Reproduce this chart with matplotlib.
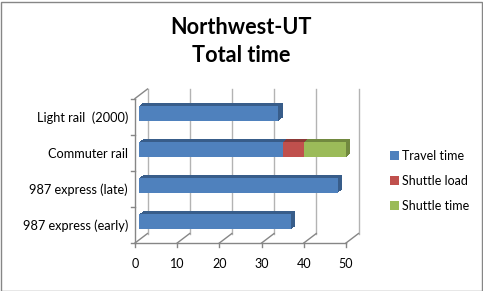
import matplotlib
matplotlib.use("Agg")
import matplotlib.pyplot as plt
from matplotlib.transforms import offset_copy
from matplotlib.patches import Rectangle
import numpy as np

plt.rcParams['font.family'] = ['Lato', 'DejaVu Sans']

categories = ["987 express (early)", "987 express (late)", "Commuter rail", "Light rail  (2000)"]
travel_time = [36, 47, 34, 33]
shuttle_load = [0, 0, 5, 0]
shuttle_time = [0, 0, 10, 0]
series_names = ["Travel time", "Shuttle load", "Shuttle time"]
x_ticks = [0, 10, 20, 30, 40, 50]

front_colors = ["#4f81bd", "#c0504d", "#9bbb59"]
depth_colors = ["#385d8a", "#8c3836", "#71893f"]
grid_c = "#b3b3b3"
axis_c = "#868686"

W, H = 483, 291
fig = plt.figure(figsize=(W / 100, H / 100), dpi=100)
fig.patch.set_facecolor("white")

# front frame in pixels
px0, px1 = 135, 346
py_top, py_bot = 98.5, 243
ax = fig.add_axes([px0 / W, (H - py_bot) / H, (px1 - px0) / W, (py_bot - py_top) / H])
ax.set_xlim(0, 50)
ax.set_ylim(-0.5, 3.5)
ax.axis("off")

wall_dx, wall_dy = 12.5, 9.5
back = offset_copy(ax.transData, fig=fig, x=wall_dx, y=wall_dy, units="dots")
inv = ax.transData.inverted()

# back wall gridlines
for xv in x_ticks:
    ax.plot([xv, xv], [-0.5, 3.5], color=grid_c, lw=1, transform=back, clip_on=False, zorder=1)
# floor diagonals
for xv in x_ticks:
    a = inv.transform(ax.transData.transform((xv, -0.5)))
    b = inv.transform(back.transform((xv, -0.5)))
    ax.plot([a[0], b[0]], [a[1], b[1]], color=axis_c, lw=1, clip_on=False, zorder=1)
# left wall top diagonal
a = inv.transform(ax.transData.transform((0, 3.5))); b = inv.transform(back.transform((0, 3.5)))
ax.plot([a[0], b[0]], [a[1], b[1]], color=axis_c, lw=1, clip_on=False, zorder=1)
# front axis lines
ax.plot([0, 0], [-0.5, 3.5], color=axis_c, lw=1, clip_on=False, zorder=1)
ax.plot([0, 50], [-0.5, -0.5], color=axis_c, lw=1, clip_on=False, zorder=1)
# ticks
for yv in np.arange(-0.5, 3.6, 1.0):
    t0 = offset_copy(ax.transData, fig=fig, x=-4, y=0, units="dots")
    pa = inv.transform(t0.transform((0, yv)))
    ax.plot([pa[0], 0], [yv, yv], color=axis_c, lw=1, clip_on=False, zorder=1)
for xv in x_ticks:
    t0 = offset_copy(ax.transData, fig=fig, x=0, y=-4, units="dots")
    pa = inv.transform(t0.transform((xv, -0.5)))
    ax.plot([xv, xv], [pa[1], -0.5], color=axis_c, lw=1, clip_on=False, zorder=1)

# bars (3D-like extrusion)
ypos = np.arange(len(categories))
bar_h = 0.415
series = [travel_time, shuttle_load, shuttle_time]
lefts = [np.zeros(len(categories)), np.array(travel_time, float),
         np.array(travel_time, float) + np.array(shuttle_load, float)]
fdx, fdy = wall_dx / 3, wall_dy / 3
steps = np.linspace(1.0, 0.0, 14)
z = 2
for s in steps[:-1]:
    tr = offset_copy(ax.transData, fig=fig, x=fdx + fdx * s, y=fdy + fdy * s, units="dots")
    for i, vals in enumerate(series):
        ax.barh(ypos, vals, left=lefts[i], height=bar_h, color=depth_colors[i],
                transform=tr, clip_on=False, zorder=z, linewidth=0)
    z += 0.01
front_tr = offset_copy(ax.transData, fig=fig, x=fdx, y=fdy, units="dots")
handles = []
for i, vals in enumerate(series):
    bc = ax.barh(ypos, vals, left=lefts[i], height=bar_h, color=front_colors[i],
                 transform=front_tr, clip_on=False, zorder=5, linewidth=0, label=series_names[i])
    handles.append(bc)

# category labels
for yv, lab in zip(ypos, categories):
    t0 = offset_copy(ax.transData, fig=fig, x=-7, y=-1, units="dots")
    ax.text(0, yv, lab, transform=t0, ha="right", va="center", fontsize=9.2, color="black")
# x tick labels
for xv in x_ticks:
    t0 = offset_copy(ax.transData, fig=fig, x=0, y=-21, units="dots")
    ax.text(xv, -0.5, str(xv), transform=t0, ha="center", va="center", fontsize=9, color="black")

# title
fig.text(241 / W, 1 - 27 / H, "Northwest-UT", ha="center", va="center", fontsize=15.6, fontweight="bold")
fig.text(241 / W, 1 - 55 / H, "Total time", ha="center", va="center", fontsize=15.6, fontweight="bold")

# legend
fig.legend(handles=handles, labels=series_names, loc="upper left",
           bbox_to_anchor=(390 / W, 1 - 150 / H), frameon=False, fontsize=9.0,
           handlelength=0.7, handleheight=0.7, handletextpad=0.25, labelspacing=1.05,
           borderaxespad=0, borderpad=0)

# outer border
fig.patches.append(Rectangle((0.5 / W, 0.5 / H), (W - 2) / W, (H - 2) / H, transform=fig.transFigure,
                             fill=False, edgecolor=axis_c, linewidth=1))

fig.savefig("out.png", dpi=100)
